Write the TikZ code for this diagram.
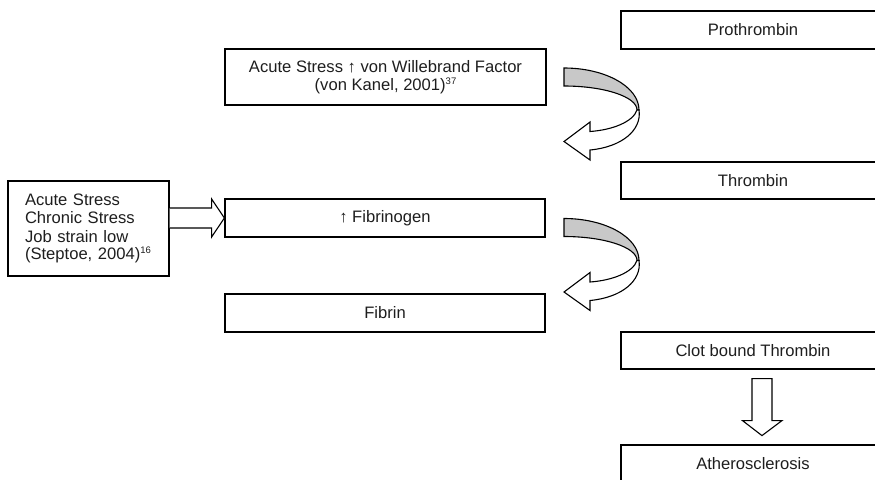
\documentclass[tikz,border=0pt]{standalone}
\usepackage{fontspec}
\setmainfont{Liberation Sans}
\usetikzlibrary{calc}
\definecolor{txt}{HTML}{1E1E1E}
\definecolor{band}{HTML}{C8C8C8}
\newcommand{\supnum}[1]{\raisebox{5.8pt}{\fontsize{9.5}{10}\selectfont #1}}
\begin{document}
\begin{tikzpicture}[x=1pt,y=-1pt,
  box/.style={draw=black,line width=1.2pt,rectangle,inner sep=0pt,text=txt,
    font=\fontsize{16.6}{17.5}\selectfont,align=center},
  blockarrow/.style={draw=black,line width=1.1pt,fill=white,line join=miter},
  bandstyle/.style={draw=black,line width=1.1pt,fill=band}]
\useasboundingbox (0,0) rectangle (875,479);
% right column
\node[box,minimum width=264pt,minimum height=38pt] (pro) at (753,30) {Prothrombin};
\node[box,minimum width=264pt,minimum height=37pt] (thr) at (753,180.5) {Thrombin};
\node[box,minimum width=264pt,minimum height=37pt] (clot) at (753,350.5) {Clot bound Thrombin};
\node[box,minimum width=264pt,minimum height=38pt] (ath) at (753,464) {Atherosclerosis};
% middle column
\node[box,minimum width=321pt,minimum height=56pt] (vwf) at (385.5,77)
  {Acute Stress \textuparrow{} von Willebrand Factor\\(von Kanel, 2001)\supnum{37}};
\node[box,minimum width=320pt,minimum height=38pt] (fib) at (385,218) {\textuparrow{} Fibrinogen};
\node[box,minimum width=320pt,minimum height=38pt] (fin) at (385,313) {Fibrin};
% left box
\node[box,minimum width=161pt,minimum height=95pt,align=left,text width=127pt] (str) at (88.5,228.5)
  {\fontsize{16.6}{18.4}\selectfont Acute Stress\\Chronic Stress\\Job strain low\\(Steptoe, 2004)\supnum{16}};
% right block arrow from stress box to fibrinogen
\coordinate (s0) at (str.east |- fib.west);
\draw[blockarrow] ($(s0)+(0,-10)$) -- ($(s0)+(42,-10)$) -- ($(s0)+(42,-19)$)
  -- (fib.west) -- ($(s0)+(42,19)$) -- ($(s0)+(42,10)$) -- ($(s0)+(0,10)$);
% down block arrow clot -> atherosclerosis
\coordinate (d0) at ($(clot.south)+(9,0)$);
\draw[blockarrow] ($(d0)+(-10,9)$) -- ($(d0)+(10,9)$) -- ($(d0)+(10,51)$)
  -- ($(d0)+(20,51)$) -- ($(d0)+(0,66)$) -- ($(d0)+(-19.5,51)$) -- ($(d0)+(-10,51)$) -- cycle;
% curved arrows
\foreach \dy in {0,150.5}{
  \begin{scope}[shift={(0,\dy)}]
    \draw[bandstyle] (564,68) .. controls (605.4,68) and (639,86.8) .. (639,110)
      -- (637,110) .. controls (637,96.8) and (604.3,86) .. (564,86) -- cycle;
    \draw[blockarrow] (637,110) .. controls (633,122) and (612,130) .. (590,131.5)
      -- (590,122) -- (564,141.5) -- (590,160) -- (590,150)
      .. controls (622,147) and (642,130) .. (639,110) -- cycle;
  \end{scope}
}
\end{tikzpicture}
\end{document}
